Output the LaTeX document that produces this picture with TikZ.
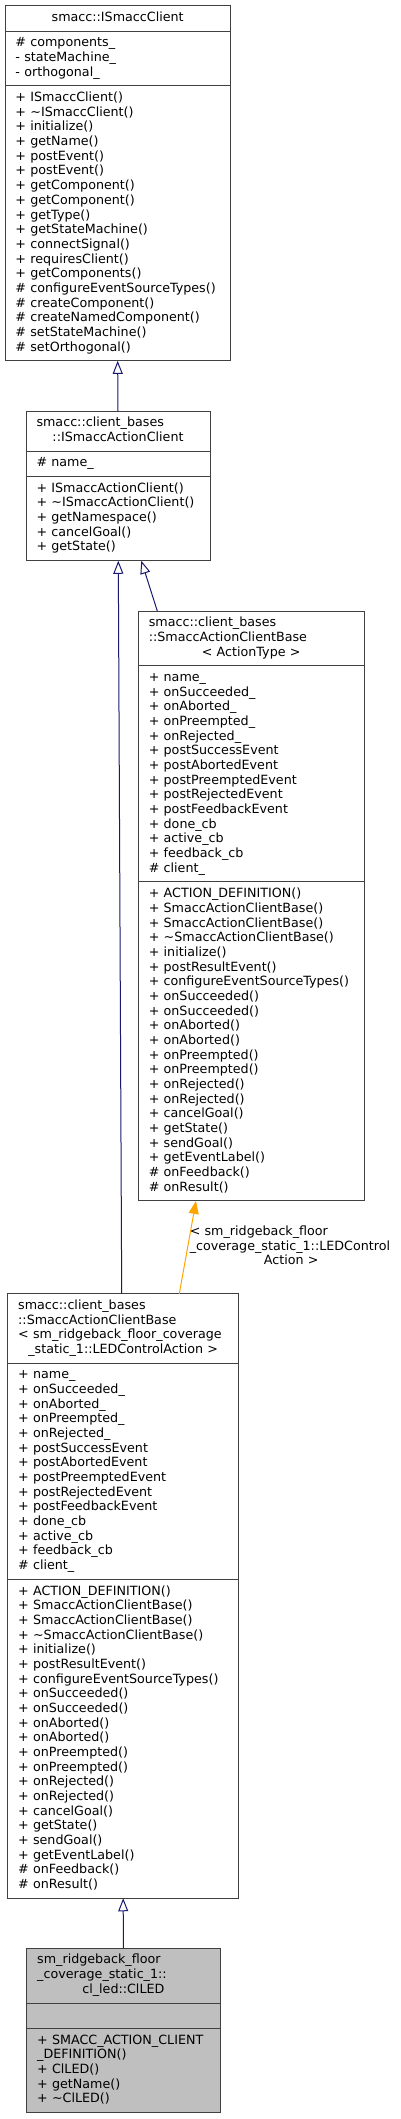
\documentclass[tikz,border=0pt]{standalone}
\usepackage{fontspec}
\setmainfont{DejaVu Sans}
\usepackage{tikz}
\usepackage{xcolor}
\usetikzlibrary{arrows.meta, positioning, calc}
\definecolor{cBorder}{RGB}{64,64,64}
\definecolor{cEdge}{RGB}{25,25,112}
\definecolor{cTmpl}{RGB}{255,165,0}
\definecolor{cSel}{RGB}{191,191,191}
\newcommand{\midln}[1]{\hspace*{\fill}#1\hspace*{\fill}}
\newcommand{\sacbAttrs}{+~name\_\\ +~onSucceeded\_\\ +~onAborted\_\\ +~onPreempted\_\\ +~onRejected\_\\ +~postSuccessEvent\\ +~postAbortedEvent\\ +~postPreemptedEvent\\ +~postRejectedEvent\\ +~postFeedbackEvent\\ +~done\_cb\\ +~active\_cb\\ +~feedback\_cb\\ \#~client\_}
\newcommand{\sacbMeths}{+~ACTION\_DEFINITION()\\ +~SmaccActionClientBase()\\ +~SmaccActionClientBase()\\ +~\textasciitilde SmaccActionClientBase()\\ +~initialize()\\ +~postResultEvent()\\ +~configureEventSourceTypes()\\ +~onSucceeded()\\ +~onSucceeded()\\ +~onAborted()\\ +~onAborted()\\ +~onPreempted()\\ +~onPreempted()\\ +~onRejected()\\ +~onRejected()\\ +~cancelGoal()\\ +~getState()\\ +~sendGoal()\\ +~getEventLabel()\\ \#~onFeedback()\\ \#~onResult()}
\tikzset{
    classbox/.style={rectangle, draw=cBorder, line width=1pt, fill=white, outer sep=0pt, inner xsep=10.5pt, inner ysep=5.4pt, align=left, node font=\fontsize{12.7}{14.67}\selectfont, execute at begin node=\strut, execute at end node=\strut},
    selbox/.style={classbox, fill=cSel},
    baseedge/.style={draw=cEdge, line width=1pt, -{Triangle[open, length=13pt, width=10pt, fill=white]}},
    tmpledge/.style={draw=cTmpl, line width=1pt, -{Triangle[length=13pt, width=10pt]}},
    tmpllabel/.style={inner sep=0pt, align=left, text width=203pt, node font=\fontsize{12.7}{14.67}\selectfont, execute at begin node=\strut, execute at end node=\strut},
}
\begin{document}
\begin{tikzpicture}[x=1pt, y=-1pt]
        \useasboundingbox (0,0) rectangle (401,2119);
        % ISmaccClient
        \node[classbox, text width=204.3pt, anchor=north west] (aTitle) at (5,5.7) {\midln{smacc::ISmaccClient}};
        \node[classbox, text width=204.3pt, below=0pt of aTitle] (aAttr) {\#~components\_\\ -~stateMachine\_\\ -~orthogonal\_};
        \node[classbox, text width=204.3pt, below=0pt of aAttr] (aMeth) {+~ISmaccClient()\\ +~\textasciitilde ISmaccClient()\\ +~initialize()\\ +~getName()\\ +~postEvent()\\ +~postEvent()\\ +~getComponent()\\ +~getComponent()\\ +~getType()\\ +~getStateMachine()\\ +~connectSignal()\\ +~requiresClient()\\ +~getComponents()\\ \#~configureEventSourceTypes()\\ \#~createComponent()\\ \#~createNamedComponent()\\ \#~setStateMachine()\\ \#~setOrthogonal()};
        % ISmaccActionClient
        \node[classbox, text width=163pt, anchor=north west] (bTitle) at (26,411) {smacc::client\_bases\\ \midln{::ISmaccActionClient}};
        \node[classbox, text width=163pt, below=0pt of bTitle] (bAttr) {\#~name\_};
        \node[classbox, text width=163pt, below=0pt of bAttr] (bMeth) {+~ISmaccActionClient()\\ +~\textasciitilde ISmaccActionClient()\\ +~getNamespace()\\ +~cancelGoal()\\ +~getState()};
        % SmaccActionClientBase template
        \node[classbox, text width=204.7pt, anchor=north west] (cTitle) at (138.3,611) {smacc::client\_bases\\ ::SmaccActionClientBase\\ \midln{<~ActionType~>}};
        \node[classbox, text width=204.7pt, below=0pt of cTitle] (cAttr) {\sacbAttrs};
        \node[classbox, text width=204.7pt, below=0pt of cAttr] (cMeth) {\sacbMeths};
        % SmaccActionClientBase instance
        \node[classbox, text width=210pt, anchor=north west] (dTitle) at (7.7,1293.7) {smacc::client\_bases\\ ::SmaccActionClientBase\\ <~sm\_ridgeback\_floor\_coverage\\ \midln{\_static\_1::LEDControlAction~>}};
        \node[classbox, text width=210pt, below=0pt of dTitle] (dAttr) {\sacbAttrs};
        \node[classbox, text width=210pt, below=0pt of dAttr] (dMeth) {\sacbMeths};
        % ClLED
        \node[selbox, text width=172.3pt, anchor=north west] (eTitle) at (26.7,1948.3) {sm\_ridgeback\_floor\\ \_coverage\_static\_1::\\ \midln{cl\_led::ClLED}};
        \node[selbox, text width=172.3pt, below=0pt of eTitle] (eAttr) {};
        \node[selbox, text width=172.3pt, below=0pt of eAttr] (eMeth) {+~SMACC\_ACTION\_CLIENT\\ \_DEFINITION()\\ +~ClLED()\\ +~getName()\\ +~\textasciitilde ClLED()};
        % edges
        \draw[baseedge] (bTitle.north) -- (aMeth.south);
        \draw[baseedge] ($(dTitle.north west)+(114,0)$) -- ($(bMeth.south west)+(92.3,0)$);
        \draw[baseedge] ($(cTitle.north west)+(19,0)$) -- ($(bMeth.south west)+(115.3,0)$);
        \draw[tmpledge] ($(dTitle.north west)+(171.6,0)$) -- ($(cMeth.south west)+(57.7,0)$)
            node[tmpllabel, pos=0.5, anchor=west, xshift=1.6pt] (tLabel) {<~sm\_ridgeback\_floor\\ \_coverage\_static\_1::LEDControl\\ \midln{Action~>}};
        \draw[baseedge] (eTitle.north) -- (dMeth.south);
    \end{tikzpicture}
\end{document}
